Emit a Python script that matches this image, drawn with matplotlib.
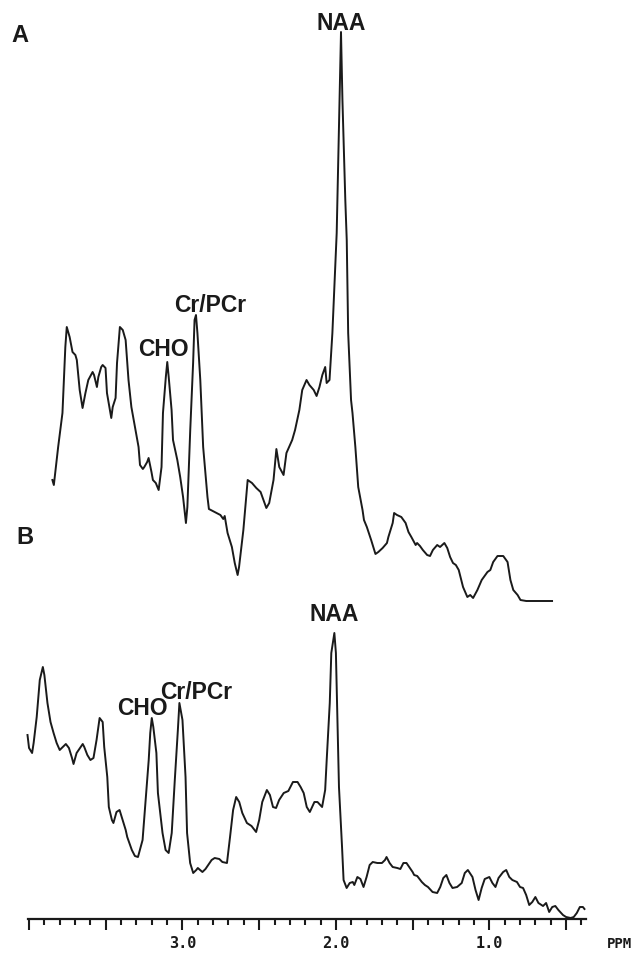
import matplotlib
matplotlib.use('Agg')
import matplotlib.pyplot as plt
from matplotlib.ticker import FixedLocator, FixedFormatter

OUTPUT_IMAGE = 'out.png'

# spectrum A (top), chemical shift in ppm and intensity in arbitrary units
ppm_a = [4.02, 4.01, 3.98, 3.95, 3.93, 3.92, 3.90, 3.88, 3.86, 3.85, 3.83, 3.81, 3.79, 3.77,
         3.74, 3.73, 3.71, 3.70, 3.68, 3.67, 3.65, 3.64, 3.61, 3.60, 3.58, 3.57, 3.55, 3.53,
         3.51, 3.49, 3.47, 3.45, 3.42, 3.41, 3.39, 3.38, 3.36, 3.35, 3.33, 3.32, 3.30, 3.28,
         3.26, 3.25, 3.23, 3.22, 3.21, 3.19, 3.18, 3.15, 3.13, 3.11, 3.09, 3.08, 3.06, 3.04,
         3.03, 3.02, 3.01, 2.99, 2.97, 2.94, 2.93, 2.89, 2.85, 2.83, 2.82, 2.80, 2.77, 2.75,
         2.73, 2.72, 2.69, 2.66, 2.63, 2.60, 2.57, 2.55, 2.53, 2.51, 2.48, 2.46, 2.44, 2.41,
         2.39, 2.35, 2.33, 2.30, 2.28, 2.25, 2.23, 2.20, 2.18, 2.16, 2.14, 2.12, 2.11, 2.09,
         2.07, 2.04, 2.02, 2.01, 2.00, 1.98, 1.97, 1.96, 1.94, 1.93, 1.91, 1.89, 1.86, 1.85,
         1.83, 1.80, 1.77, 1.75, 1.72, 1.69, 1.68, 1.65, 1.64, 1.62, 1.59, 1.56, 1.54, 1.52,
         1.49, 1.48, 1.46, 1.44, 1.41, 1.39, 1.37, 1.34, 1.32, 1.29, 1.27, 1.25, 1.23, 1.21,
         1.19, 1.16, 1.13, 1.11, 1.09, 1.06, 1.03, 0.99, 0.97, 0.95, 0.92, 0.88, 0.85, 0.83,
         0.81, 0.78, 0.76, 0.72, 0.54]
int_a = [125, 120, 158, 192, 258, 278, 268, 253, 250, 245, 215, 197, 212, 225,
         233, 230, 218, 228, 238, 240, 237, 212, 187, 198, 207, 242, 278, 275,
         265, 225, 198, 182, 158, 140, 136, 138, 143, 147, 133, 125, 122, 115,
         138, 192, 228, 243, 228, 195, 165, 145, 128, 108, 82, 98, 175, 242,
         285, 290, 272, 225, 158, 108, 96, 93, 90, 86, 89, 72, 58, 42,
         30, 38, 75, 125, 122, 117, 113, 105, 97, 102, 125, 156, 138, 130,
         152, 165, 175, 195, 215, 225, 220, 215, 209, 218, 230, 238, 222, 225,
         272, 372, 505, 573, 505, 405, 365, 272, 205, 192, 158, 118, 95, 85,
         78, 65, 51, 53, 57, 62, 68, 82, 92, 90, 88, 82, 73, 68,
         60, 62, 59, 55, 50, 49, 55, 60, 58, 62, 57, 48, 42, 40,
         35, 18, 8, 10, 7, 15, 25, 33, 35, 43, 49, 49, 43, 25,
         15, 10, 5, 4, 4]

# spectrum B (bottom)
ppm_b = [4.01, 4.00, 3.98, 3.97, 3.95, 3.93, 3.91, 3.90, 3.88, 3.86, 3.84, 3.82, 3.80, 3.78,
         3.76, 3.74, 3.72, 3.71, 3.69, 3.65, 3.64, 3.62, 3.60, 3.58, 3.56, 3.54, 3.52, 3.51,
         3.49, 3.48, 3.46, 3.45, 3.43, 3.41, 3.39, 3.37, 3.36, 3.33, 3.31, 3.29, 3.26, 3.24,
         3.22, 3.21, 3.20, 3.19, 3.17, 3.16, 3.13, 3.11, 3.09, 3.07, 3.05, 3.03, 3.02, 3.00,
         2.98, 2.97, 2.95, 2.93, 2.91, 2.90, 2.87, 2.85, 2.81, 2.79, 2.76, 2.74, 2.71, 2.69,
         2.67, 2.65, 2.63, 2.61, 2.58, 2.55, 2.52, 2.50, 2.48, 2.45, 2.43, 2.41, 2.39, 2.37,
         2.34, 2.31, 2.28, 2.25, 2.23, 2.21, 2.19, 2.17, 2.14, 2.12, 2.09, 2.07, 2.06, 2.04,
         2.03, 2.01, 2.00, 1.99, 1.98, 1.96, 1.95, 1.93, 1.91, 1.89, 1.88, 1.86, 1.84, 1.82,
         1.80, 1.78, 1.76, 1.73, 1.70, 1.68, 1.67, 1.65, 1.63, 1.60, 1.58, 1.56, 1.54, 1.50,
         1.49, 1.47, 1.44, 1.42, 1.40, 1.37, 1.34, 1.32, 1.30, 1.28, 1.26, 1.24, 1.21, 1.18,
         1.16, 1.14, 1.11, 1.09, 1.07, 1.05, 1.03, 1.00, 0.98, 0.96, 0.94, 0.91, 0.89, 0.87,
         0.85, 0.82, 0.80, 0.78, 0.76, 0.74, 0.72, 0.70, 0.68, 0.65, 0.63, 0.61, 0.59, 0.57,
         0.55, 0.52, 0.50, 0.47, 0.45, 0.43, 0.41, 0.39, 0.38]
int_b = [185, 172, 167, 177, 203, 240, 253, 245, 217, 198, 187, 177, 170, 173,
         176, 172, 162, 156, 167, 176, 173, 165, 160, 162, 180, 202, 198, 173,
         143, 113, 100, 97, 108, 110, 100, 90, 83, 70, 64, 63, 80, 120,
         160, 187, 202, 193, 167, 127, 87, 70, 67, 87, 140, 190, 217, 200,
         143, 87, 57, 47, 50, 52, 48, 51, 60, 62, 61, 58, 57, 83,
         110, 123, 118, 107, 97, 94, 88, 100, 118, 130, 125, 113, 112, 120,
         127, 129, 138, 138, 133, 127, 113, 108, 118, 118, 113, 130, 160, 217,
         267, 287, 267, 200, 133, 73, 40, 32, 37, 38, 35, 43, 41, 33,
         43, 55, 58, 57, 57, 60, 63, 57, 53, 52, 51, 57, 57, 48,
         45, 44, 38, 35, 33, 28, 27, 33, 42, 45, 37, 32, 33, 37,
         47, 50, 43, 30, 20, 32, 41, 43, 37, 33, 42, 48, 50, 43,
         40, 38, 33, 32, 25, 15, 18, 23, 17, 14, 17, 8, 13, 14,
         10, 5, 3, 2, 3, 7, 13, 13, 11]

peak_names = ['NAA', 'CHO', 'Cr/PCr']
peak_ppm_a = [2.01, 3.25, 2.92]
peak_lab_a = [581, 255, 299]
peak_ppm_b = [2.01, 3.26, 2.91]
peak_lab_b = [306, 212, 228]

major_ticks = [4.0, 3.5, 3.0, 2.5, 2.0, 1.5, 1.0, 0.5]
major_labels = ['', '', '3.0', '', '2.0', '', '1.0', '']
minor_ticks = [round(4.0 - 0.1 * i, 1) for i in range(37)]

W, H = 639, 955
INK = '#1a1a1a'
LABEL_FONT = ['Liberation Sans', 'DejaVu Sans']


def box(x0, y0, x1, y1):
    # pixel box (top-left origin) -> figure fraction
    return [x0 / W, 1 - y1 / H, (x1 - x0) / W, (y1 - y0) / H]


def peak_label(ax, x, y, name):
    ax.text(x, y, name, ha='center', va='center', fontsize=16.5, fontweight='bold',
            family=LABEL_FONT, color=INK)


fig = plt.figure(figsize=(W / 100, H / 100), dpi=100)

axA = fig.add_axes(box(48.1, 5, 557.8, 605))
axA.plot(ppm_a, int_a, color=INK, lw=1.4, clip_on=False)
axA.set_xlim(4.05, 0.50)
axA.set_ylim(0, 600)
axA.axis('off')
for name, x, y in zip(peak_names, peak_ppm_a, peak_lab_a):
    peak_label(axA, x, y, name)

axB = fig.add_axes(box(27.5, 620, 586, 919))
axB.plot(ppm_b, int_b, color=INK, lw=1.4, clip_on=False)
axB.set_xlim(4.01, 0.37)
axB.set_ylim(1, 300)
for side in ['top', 'left', 'right']:
    axB.spines[side].set_visible(False)
axB.spines['bottom'].set_linewidth(1.6)
axB.spines['bottom'].set_color(INK)
axB.set_yticks([])
axB.xaxis.set_major_locator(FixedLocator(major_ticks))
axB.xaxis.set_major_formatter(FixedFormatter(major_labels))
axB.xaxis.set_minor_locator(FixedLocator(minor_ticks))
axB.tick_params(axis='x', which='major', direction='out', length=8, width=1.5,
                color=INK, pad=4, labelsize=11, labelcolor=INK)
axB.tick_params(axis='x', which='minor', direction='out', length=4.5, width=1.5, color=INK)
for lab in axB.get_xticklabels():
    lab.set_family(['DejaVu Sans Mono'])
    lab.set_fontweight('bold')
for name, x, y in zip(peak_names, peak_ppm_b, peak_lab_b):
    peak_label(axB, x, y, name)

fig.text(20 / W, 1 - 35 / H, 'A', ha='center', va='center', fontsize=17,
         fontweight='bold', family=LABEL_FONT, color=INK)
fig.text(25 / W, 1 - 538 / H, 'B', ha='center', va='center', fontsize=17,
         fontweight='bold', family=LABEL_FONT, color=INK)
fig.text(619 / W, 1 - 944 / H, 'PPM', ha='center', va='center', fontsize=10,
         fontweight='bold', family=['DejaVu Sans Mono'], color=INK)

fig.savefig(OUTPUT_IMAGE, dpi=100)
